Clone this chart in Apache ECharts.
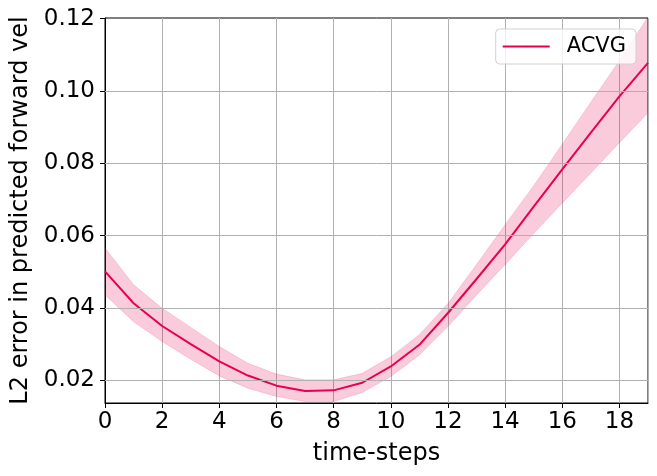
<!DOCTYPE html>
<html>
<head>
<meta charset="utf-8">
<script src="https://cdn.jsdelivr.net/npm/echarts@6/dist/echarts.min.js"></script>
<style>
  html, body { margin: 0; padding: 0; background: #fff; }
  #chart { width: 657px; height: 476px; }
</style>
</head>
<body>
<div id="chart"></div>
<script>
// time-steps
var steps = [0, 1, 2, 3, 4, 5, 6, 7, 8, 9, 10, 11, 12, 13, 14, 15, 16, 17, 18, 19];
// mean error (line)
var meanErr = [0.0501, 0.0413, 0.0350, 0.0300, 0.0252, 0.0213, 0.0185, 0.0170, 0.0172, 0.0193,
               0.0238, 0.0298, 0.0386, 0.0480, 0.0576, 0.0680, 0.0783, 0.0885, 0.0985, 0.1078];
// band edges
var lowerErr = [0.0436, 0.0362, 0.0307, 0.0258, 0.0212, 0.0178, 0.0155, 0.0141, 0.0141, 0.0166,
                0.0210, 0.0270, 0.0349, 0.0436, 0.0520, 0.0606, 0.0690, 0.0773, 0.0857, 0.0940];
var upperErr = [0.0566, 0.0464, 0.0399, 0.0346, 0.0293, 0.0247, 0.0217, 0.0201, 0.0201, 0.0219,
                0.0265, 0.0326, 0.0412, 0.0520, 0.0630, 0.0738, 0.0853, 0.0969, 0.1084, 0.1205];
var yTicks = [0.02, 0.04, 0.06, 0.08, 0.10, 0.12];

var lineColor = '#e8004d';
var font = 'DejaVu Sans';

var chart = echarts.init(document.getElementById('chart'));

var meanData = steps.map(function (s, i) { return [s, meanErr[i]]; });

// shaded band: one polygon, upper edge forward then lower edge back
function renderBand(params, api) {
  var pts = [];
  for (var i = 0; i < steps.length; i++) pts.push(api.coord([steps[i], upperErr[i]]));
  for (var j = steps.length - 1; j >= 0; j--) pts.push(api.coord([steps[j], lowerErr[j]]));
  return {
    type: 'polygon',
    shape: { points: pts },
    style: { fill: 'rgba(232,0,77,0.2)', stroke: 'rgba(232,0,77,0.15)', lineWidth: 1 }
  };
}

var option = {
  animation: false,
  grid: {
    left: 105, right: 9, top: 18, bottom: 73,
    show: true, borderColor: '#000', borderWidth: 1
  },
  legend: {
    data: ['ACVG'],
    right: 21, top: 29,
    padding: [7, 10, 7, 6],
    borderColor: '#d0d0d0', borderWidth: 1, borderRadius: 4,
    backgroundColor: 'rgba(255,255,255,0.8)',
    itemWidth: 47, itemHeight: 2,
    textStyle: { fontFamily: font, fontSize: 21, color: '#000', padding: [0, 0, 0, 12] }
  },
  xAxis: {
    type: 'value', min: 0, max: 19, interval: 2,
    name: 'time-steps', nameLocation: 'middle', nameGap: 39,
    nameTextStyle: { fontFamily: font, fontSize: 24, color: '#000' },
    axisLine: { lineStyle: { color: '#000' } },
    axisTick: { show: true, length: 5, lineStyle: { color: '#000' } },
    axisLabel: { fontFamily: font, fontSize: 23, color: '#000', margin: 8, showMaxLabel: false },
    splitLine: { show: true, lineStyle: { color: '#b0b0b0', width: 1 } }
  },
  yAxis: {
    type: 'value', min: 0.0137, max: 0.1202,
    name: 'L2 error in predicted forward vel', nameLocation: 'middle', nameGap: 71,
    nameTextStyle: { fontFamily: font, fontSize: 24, color: '#000' },
    axisLine: { show: true, lineStyle: { color: '#000' } },
    axisTick: { show: true, length: 5, lineStyle: { color: '#000' }, customValues: yTicks },
    axisLabel: {
      fontFamily: font, fontSize: 23, color: '#000', margin: 10,
      customValues: yTicks,
      formatter: function (v) { return v.toFixed(2); }
    },
    splitLine: { show: false }
  },
  series: [
    {
      name: 'band', type: 'custom', renderItem: renderBand,
      data: [0], silent: true, clip: true, z: 1,
      // horizontal grid lines drawn at the tick values
      markLine: {
        silent: true, symbol: 'none', label: { show: false },
        lineStyle: { color: '#b0b0b0', width: 1, type: 'solid' },
        data: yTicks.slice(0, 5).map(function (v) { return { yAxis: v }; })
      }
    },
    {
      name: 'ACVG', type: 'line', data: meanData,
      symbol: 'none', color: lineColor,
      lineStyle: { color: lineColor, width: 2 },
      z: 3
    }
  ]
};

chart.setOption(option);
</script>
</body>
</html>
